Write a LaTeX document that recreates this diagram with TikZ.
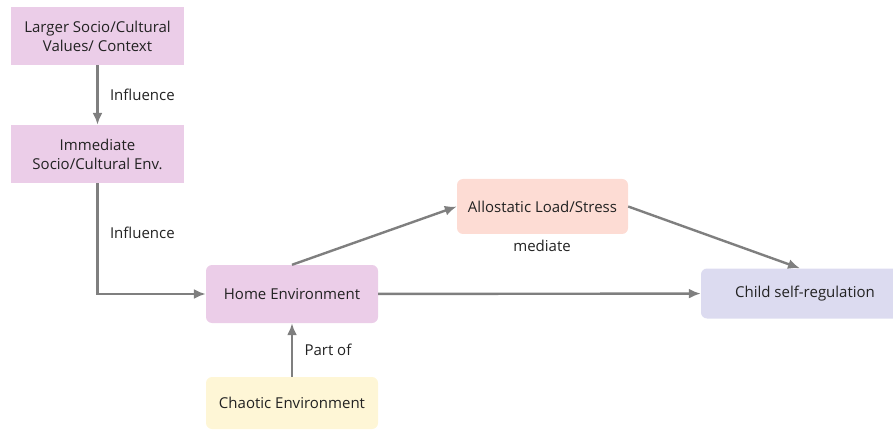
\documentclass[tikz,border=0pt]{standalone}
\usepackage{fontspec}
\setmainfont{Open Sans}
\usetikzlibrary{calc, arrows.meta}
\definecolor{boxpink}{HTML}{EBCDE8}
\definecolor{boxsalmon}{HTML}{FDDCD4}
\definecolor{boxblue}{HTML}{DCDBF0}
\definecolor{boxyellow}{HTML}{FEF6D6}
\definecolor{arrowgray}{HTML}{7F7F7F}
\definecolor{textgray}{HTML}{222222}
\begin{document}
\begin{tikzpicture}[x=1pt, y=-1pt, font=\fontsize{15}{19}\selectfont, text=textgray,
		box/.style={minimum width=173pt, minimum height=58pt, align=center, inner sep=0pt},
		arr/.style={-{Latex[length=12pt, width=10pt]}, draw=arrowgray, line width=2.4pt}]
		\useasboundingbox (0, 0) rectangle (893, 430);
		\node (larger)at (97.5, 36)[box, fill=boxpink]  {Larger Socio/Cultural\\Values/ Context};
		\node (immediate)at (97.5, 154)[box, fill=boxpink]  {Immediate\\Socio/Cultural Env.};
		\node (home)at (292, 294)[box, fill=boxpink, minimum width=172pt, rounded corners=6pt]  {Home Environment};
		\node (allo)at (542.5, 206.5)[box, fill=boxsalmon, minimum width=171pt, minimum height=55pt, rounded corners=6pt]  {Allostatic Load/Stress};
		\node (child)at (805, 293.5)[box, fill=boxblue, minimum width=208pt, minimum height=50pt, rounded corners=6pt]  {Child self-regulation};
		\node (chaotic)at (292, 403)[box, fill=boxyellow, minimum width=172pt, minimum height=52pt, rounded corners=6pt]  {Chaotic Environment};
		\node (mediate)at (542, 246)  {mediate};
		\draw [arr](larger)--node [midway, anchor = west, xshift=8pt]{Influence}(immediate);
		\draw [arr](immediate)--node [pos=0.45, anchor = west, xshift=8pt]{Influence}(immediate.south|-home.west)[rounded corners=3pt]--(home);
		\draw [arr](chaotic)--node [midway, anchor = west, xshift=8pt]{Part of}(home);
		\draw [arr](home.north)--(allo.west);
		\draw [arr](home)--(child);
		\draw [arr](allo.east)--([xshift=-5pt]child.north);
	\end{tikzpicture}
\end{document}
